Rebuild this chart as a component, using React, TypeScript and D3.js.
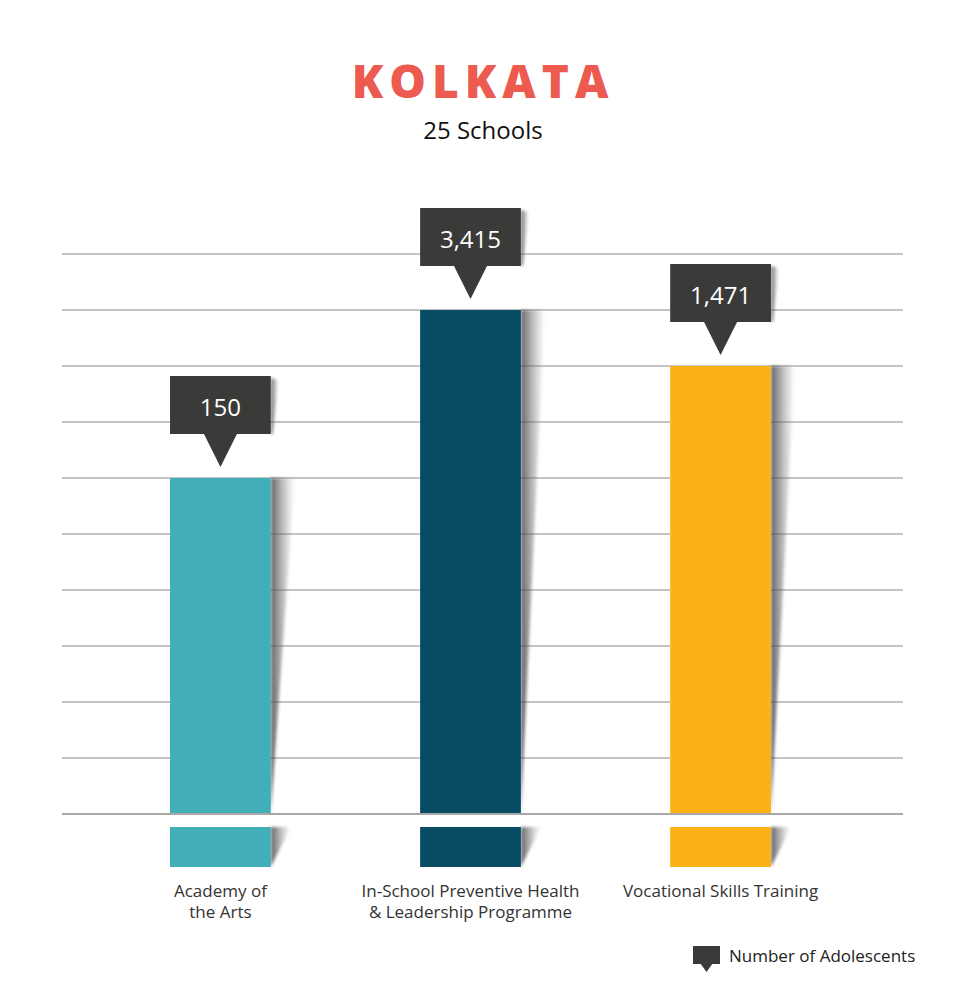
import * as d3 from 'd3';

const categories = [
  ['Academy of', 'the Arts'],
  ['In-School Preventive Health', '& Leadership Programme'],
  ['Vocational Skills Training'],
];
const values = [150, 3415, 1471];
// bars are drawn on a stepped scale, not proportional to values
const levels = [6, 9, 8];
const gridLevels = d3.range(0, 11);
const colors = ['#42aeb8', '#084c64', '#fbb216'];

const W = 966;
const H = 1000;

export default function App() {
  const x = d3.scaleBand<number>()
    .domain(d3.range(values.length))
    .range([95, 846])
    .paddingInner(0.597)
    .paddingOuter(0.3);
  const y = d3.scaleLinear().domain([0, 10]).range([814, 254]);
  const bw = x.bandwidth();
  const fmt = d3.format(',');

  return (
    <svg width={W} height={H} viewBox={`0 0 ${W} ${H}`}
      style={{ position: 'absolute', left: 0, top: 0, fontFamily: '"Open Sans", sans-serif' }}>
      <defs>
        <linearGradient id="shadow" x1="0" x2="1" y1="0" y2="0">
          <stop offset="0%" stopColor="#444" stopOpacity={0.85} />
          <stop offset="100%" stopColor="#888" stopOpacity={0} />
        </linearGradient>
        <filter id="blur" x="-50%" y="-10%" width="200%" height="120%">
          <feGaussianBlur stdDeviation="1.5" />
        </filter>
      </defs>
      <rect width={W} height={H} fill="#fff" />

      <text x={483} y={98} textAnchor="middle" fill="#ec5a50" fontSize={46}
        fontWeight={800} letterSpacing={6}>KOLKATA</text>
      <text x={483} y={139} textAnchor="middle" fill="#111" fontSize={24}>25 Schools</text>

      {gridLevels.map(g => (
        <line key={g} x1={62} x2={903} y1={y(g)} y2={y(g)}
          stroke={g === 0 ? '#a8a8a8' : '#c4c4c4'} strokeWidth={2} />
      ))}

      {values.map((v, i) => {
        const x0 = x(i)!;
        const top = y(levels[i]);
        const cx = x0 + bw / 2;
        const boxBottom = top - 44;
        const boxTop = boxBottom - 58;
        const tip = top - 11;
        return (
          <g key={i}>
            <polygon points={`${x0 + bw},${top} ${x0 + bw + 24},${top} ${x0 + bw},${y(0)}`}
              fill="url(#shadow)" filter="url(#blur)" />
            <rect x={x0} y={top} width={bw} height={y(0) - top - 1} fill={colors[i]} />

            <polygon points={`${x0 + bw},827 ${x0 + bw + 20},827 ${x0 + bw},867`}
              fill="url(#shadow)" filter="url(#blur)" />
            <rect x={x0} y={827} width={bw} height={40} fill={colors[i]} />

            <polygon points={`${x0 + bw},${boxTop + 2} ${x0 + bw + 8},${boxTop + 4} ${x0 + bw + 2},${boxBottom}  ${x0 + bw},${boxBottom}`}
              fill="url(#shadow)" filter="url(#blur)" />
            <rect x={x0} y={boxTop} width={bw} height={58} fill="#3a3a38" />
            <polygon points={`${cx - 17},${boxBottom - 1} ${cx + 17},${boxBottom - 1} ${cx},${tip}`} fill="#3a3a38" />
            <text x={cx} y={boxTop + 40} textAnchor="middle" fill="#fff" fontSize={24}>{fmt(v)}</text>

            {categories[i].map((line, j) => (
              <text key={j} x={cx} y={897 + j * 21} textAnchor="middle" fill="#333" fontSize={17}>{line}</text>
            ))}
          </g>
        );
      })}

      <rect x={693} y={946} width={27} height={18} fill="#3a3a38" />
      <polygon points="700,963 713,963 706.5,972" fill="#3a3a38" />
      <text x={729} y={962} fill="#222" fontSize={17}>Number of Adolescents</text>
    </svg>
  );
}
